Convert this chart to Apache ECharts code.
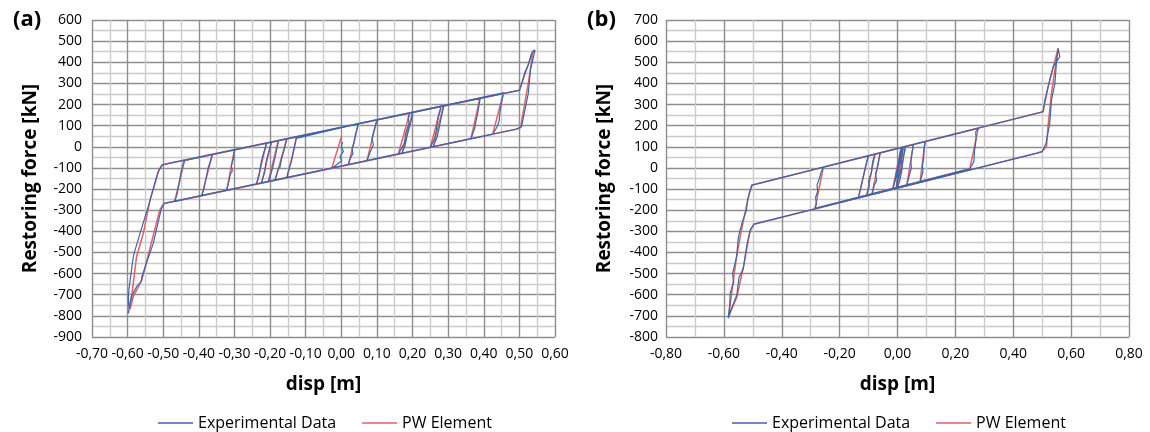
<!DOCTYPE html>
<html><head><meta charset="utf-8">
<script src="https://cdn.jsdelivr.net/npm/echarts@6/dist/echarts.min.js"></script>
<style>html,body{margin:0;padding:0;background:#fff}#c{width:1150px;height:432px}</style>
</head><body><div id="c"></div>
<script>
// ---- text ----
const panelLabels = ['(a)', '(b)'];
const seriesNames = ['Experimental Data', 'PW Element'];
const xTitle = 'disp [m]';
const yTitle = 'Restoring force [kN]';

// ---- axis ranges [min, max, interval] ----
const xRangeA = [-0.7, 0.6, 0.1];
const yRangeA = [-900, 600, 100];
const xRangeB = [-0.8, 0.8, 0.2];
const yRangeB = [-800, 700, 100];

// ---- panel (a): [disp m, force kN] ----
const pwA = [
[0.001,50],[-0.027,-102],
[-0.153,-147],[-0.140,-60],[-0.125,48],
[0.048,109],[0.020,-85],
[-0.186,-158],[-0.153,38],
[0.100,128],[0.072,-66],
[-0.205,-165],[-0.177,29],
[0.192,160],[0.160,-35],
[-0.224,-172],[-0.196,22],
[0.200,163],[0.170,-31],
[-0.238,-177],[-0.210,17],
[0.280,192],[0.250,-3],
[-0.322,-207],[-0.300,-15],
[0.287,194],[0.258,0],
[-0.392,-232],[-0.362,-37],
[0.389,230],[0.364,38],
[-0.468,-259],[-0.440,-65],
[0.455,254],[0.425,59],
[-0.498,-268],[-0.510,-300],[-0.560,-630],[-0.584,-709],[-0.593,-769],
[-0.575,-520],[-0.556,-410],[-0.537,-252],[-0.512,-110],[-0.503,-86],[-0.490,-80],
[0.500,268],[0.539,458],[0.525,300],[0.503,90],[0.490,83],[0.300,15]
];
const expA = [
[0.004,22],[0.000,2],[0.006,-22],[-0.004,-46],[0.001,-66],[-0.014,-86],[-0.027,-101],
[-0.153,-146],[-0.146,-100],[-0.141,-75],[-0.136,-70],[-0.134,-20],[-0.127,40],[-0.124,49],
[0.048,110],[0.040,60],[0.036,20],[0.030,-10],[0.033,-30],[0.024,-60],[0.020,-84],
[-0.186,-157],[-0.178,-110],[-0.172,-95],[-0.168,-60],[-0.160,-10],[-0.156,20],[-0.152,39],
[0.101,128],[0.092,80],[0.086,40],[0.090,10],[0.080,-30],[0.072,-65],
[-0.205,-164],[-0.196,-120],[-0.190,-80],[-0.186,-50],[-0.180,0],[-0.176,30],
[0.193,161],[0.188,140],[0.190,110],[0.180,60],[0.178,20],[0.168,-10],[0.160,-34],
[-0.224,-171],[-0.215,-120],[-0.211,-70],[-0.205,-30],[-0.196,22],
[0.201,163],[0.196,120],[0.186,60],[0.178,0],[0.170,-30],
[-0.238,-176],[-0.230,-130],[-0.226,-80],[-0.220,-40],[-0.210,17],
[0.281,192],[0.272,140],[0.268,90],[0.262,40],[0.250,-2],
[-0.322,-206],[-0.315,-160],[-0.312,-130],[-0.306,-115],[-0.309,-90],[-0.303,-55],[-0.300,-14],
[0.288,195],[0.282,150],[0.276,100],[0.270,50],[0.258,1],
[-0.392,-231],[-0.386,-200],[-0.380,-150],[-0.374,-100],[-0.366,-60],[-0.362,-36],
[0.390,231],[0.386,190],[0.382,150],[0.378,120],[0.375,90],[0.364,38],
[-0.468,-258],[-0.462,-230],[-0.455,-170],[-0.450,-120],[-0.444,-80],[-0.440,-64],
[0.456,255],[0.451,220],[0.446,170],[0.443,120],[0.436,90],[0.425,60],
[-0.497,-268],[-0.505,-290],[-0.528,-457],[-0.560,-615],[-0.562,-638],[-0.575,-662],[-0.590,-710],[-0.598,-788],[-0.596,-775],
[-0.598,-709],[-0.596,-670],[-0.584,-520],[-0.579,-488],[-0.565,-410],[-0.540,-270],[-0.515,-120],[-0.504,-87],[-0.490,-81],
[0.501,268],[0.516,355],[0.525,387],[0.534,442],[0.544,458],[0.531,363],[0.525,253],[0.506,95],[0.490,83],[0.300,16]
];

// ---- panel (b): [disp m, force kN] ----
const pwB = [
[0.002,10],[0.012,96],[-0.016,-98],[0.018,98],[0.024,100],[-0.004,-93],[-0.010,-95],[0.020,99],[0.028,102],[0.000,-92],
[-0.088,-123],[-0.060,71],
[0.055,111],[0.032,-81],
[-0.106,-129],[-0.078,65],
[0.095,125],[0.078,-65],
[-0.135,-139],[-0.101,57],
[0.279,188],[0.250,-4],
[-0.285,-192],[-0.256,4],
[0.503,266],[0.520,380],[0.555,566],[0.532,353],[0.520,195],[0.515,100],[0.498,77],[0.480,70],
[-0.496,-266],[-0.510,-300],[-0.532,-467],[-0.555,-610],[-0.583,-700],
[-0.570,-560],[-0.556,-420],[-0.540,-300],[-0.525,-200],[-0.512,-120],[-0.503,-81],[-0.490,-77],
[0.000,92]
];
const expB = [
[0.004,12],[0.010,60],[0.014,96],[0.004,30],[-0.006,-40],[-0.016,-98],[-0.006,-50],[0.008,20],[0.018,98],[0.024,100],
[0.012,40],[0.016,10],[0.002,-50],[-0.004,-93],[-0.010,-95],[0.000,-40],[0.006,10],[0.016,60],[0.020,99],[0.028,102],
[0.020,50],[0.014,-20],[0.008,-60],[0.000,-92],
[-0.088,-123],[-0.080,-80],[-0.072,-60],[-0.076,-30],[-0.068,10],[-0.064,40],[-0.060,71],
[0.055,111],[0.050,70],[0.046,30],[0.048,0],[0.040,-40],[0.032,-81],
[-0.106,-129],[-0.098,-90],[-0.100,-60],[-0.090,-20],[-0.086,30],[-0.078,65],
[0.096,125],[0.092,90],[0.090,40],[0.086,10],[0.088,-20],[0.078,-64],
[-0.135,-139],[-0.126,-90],[-0.118,-40],[-0.110,10],[-0.101,57],
[0.280,188],[0.270,170],[0.272,140],[0.266,80],[0.264,30],[0.256,10],[0.250,-4],
[-0.285,-191],[-0.280,-170],[-0.283,-140],[-0.276,-110],[-0.278,-80],[-0.270,-50],[-0.264,-20],[-0.256,4],
[0.503,266],[0.509,321],[0.526,416],[0.538,479],[0.561,526],[0.555,566],[0.549,495],[0.544,400],[0.532,321],[0.526,211],[0.513,116],[0.500,77],[0.480,69],
[-0.496,-266],[-0.508,-290],[-0.520,-360],[-0.530,-450],[-0.534,-480],[-0.548,-520],[-0.555,-600],[-0.572,-660],[-0.585,-710],
[-0.580,-650],[-0.578,-590],[-0.566,-540],[-0.570,-500],[-0.556,-420],[-0.550,-330],[-0.545,-300],[-0.535,-250],[-0.522,-200],[-0.518,-150],[-0.512,-120],[-0.503,-81],[-0.490,-77],
[0.000,92]
];

// ---- styling ----
const BLUE = '#3a66ad';
const RED = '#e2625f';
const FONT = '"Open Sans", "DejaVu Sans", sans-serif';
const TXT = '#000';
const MAJOR = '#8e8e8e';
const MINOR = '#cbcbcb';

function xAxisCfg(grid, r, labelMargin) {
  return {
    type: 'value', gridIndex: grid, min: r[0], max: r[1], interval: r[2],
    name: xTitle, nameLocation: 'middle', nameGap: 38,
    nameTextStyle: {fontFamily: FONT, fontSize: 19, fontWeight: 'bold', color: TXT},
    axisLine: {show: false, onZero: false}, axisTick: {show: false},
    axisLabel: {fontFamily: FONT, fontSize: 14, color: TXT, margin: labelMargin,
      formatter: v => v.toFixed(2).replace('.', ',')},
    splitLine: {show: true, lineStyle: {color: MAJOR, width: 1.4}},
    minorTick: {show: false, splitNumber: 2},
    minorSplitLine: {show: true, lineStyle: {color: MINOR, width: 1.4}}
  };
}
function yAxisCfg(grid, r, labelMargin, nameGap) {
  return {
    type: 'value', gridIndex: grid, min: r[0], max: r[1], interval: r[2],
    name: yTitle, nameLocation: 'middle', nameGap: nameGap,
    nameTextStyle: {fontFamily: FONT, fontSize: 19, fontWeight: 'bold', color: TXT},
    axisLine: {show: false, onZero: false}, axisTick: {show: false},
    axisLabel: {fontFamily: FONT, fontSize: 14, color: TXT, margin: labelMargin},
    splitLine: {show: true, lineStyle: {color: MAJOR, width: 1.4}},
    minorTick: {show: false, splitNumber: 2},
    minorSplitLine: {show: true, lineStyle: {color: MINOR, width: 1.4}}
  };
}
function lineSeries(name, data, xi, color, w, z) {
  return {name, type: 'line', data, xAxisIndex: xi, yAxisIndex: xi, symbol: 'none',
    showSymbol: false, color, lineStyle: {color, width: w}, z, animation: false};
}
function legendCfg(left) {
  return {data: seriesNames, left, top: 410, icon: 'rect', itemWidth: 35, itemHeight: 1.5,
    itemGap: 26, textStyle: {fontFamily: FONT, fontSize: 16, color: TXT}, selectedMode: false};
}

const chart = echarts.init(document.getElementById('c'), null, {renderer: 'canvas'});
chart.setOption({
  backgroundColor: '#fff',
  animation: false,
  title: [
    {text: panelLabels[0], left: 8, top: 4, textStyle: {fontFamily: FONT, fontSize: 22, fontWeight: 'bold', color: TXT}},
    {text: panelLabels[1], left: 582, top: 4, textStyle: {fontFamily: FONT, fontSize: 22, fontWeight: 'bold', color: TXT}}
  ],
  legend: [legendCfg(153), legendCfg(727)],
  grid: [
    {left: 92, top: 20, width: 463, height: 317},
    {left: 666, top: 20, width: 463, height: 317}
  ],
  xAxis: [xAxisCfg(0, xRangeA, 10), xAxisCfg(1, xRangeB, 10)],
  yAxis: [yAxisCfg(0, yRangeA, 10, 52), yAxisCfg(1, yRangeB, 8, 52)],
  series: [
    lineSeries(seriesNames[1], pwA, 0, RED, 1.5, 2),
    lineSeries(seriesNames[0], expA, 0, BLUE, 1.2, 3),
    lineSeries(seriesNames[1], pwB, 1, RED, 1.5, 2),
    lineSeries(seriesNames[0], expB, 1, BLUE, 1.2, 3)
  ]
});
</script></body></html>
